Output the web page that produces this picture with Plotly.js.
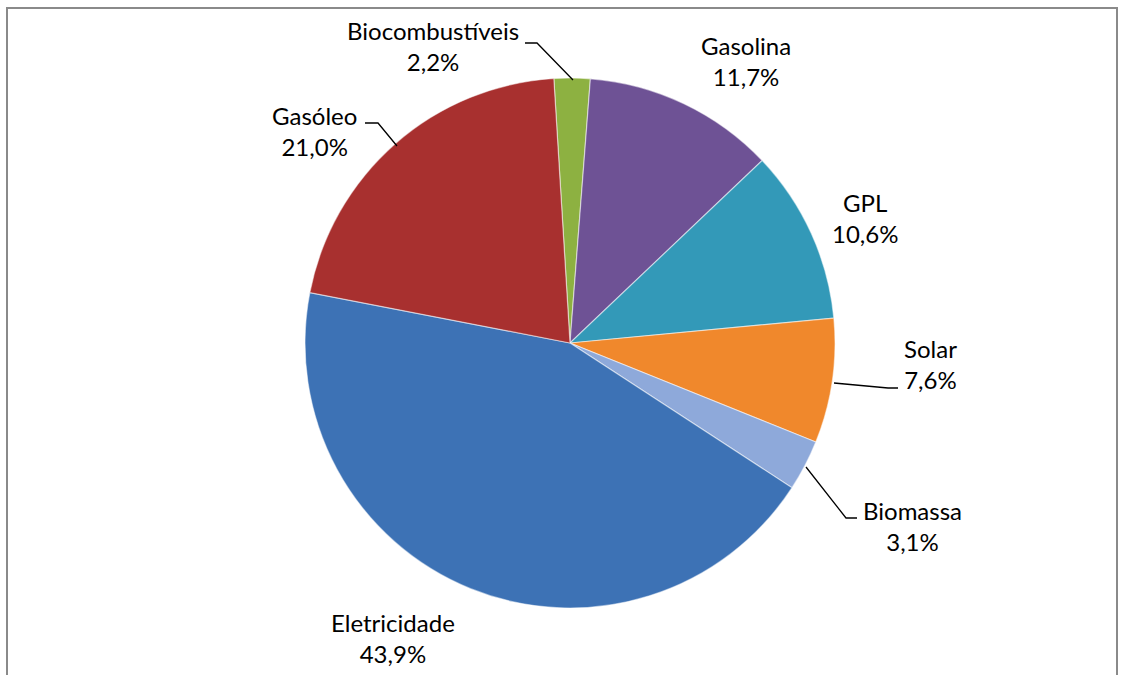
<!DOCTYPE html>
<html>
<head>
<meta charset="utf-8">
<script src="https://cdn.plot.ly/plotly-3.0.1.min.js"></script>
<style>
  html, body { margin: 0; padding: 0; background: #ffffff; }
  #chart { width: 1127px; height: 675px; }
</style>
</head>
<body>
<div id="chart"></div>
<script>
// ---- data ----
const categories = ["Biocombustíveis", "Gasolina", "GPL", "Solar", "Biomassa", "Eletricidade", "Gasóleo"];
const shares = [2.2, 11.7, 10.6, 7.6, 3.1, 43.9, 21.0];
const sliceColors = ["#8DB141", "#6E5295", "#3399B8", "#F0882C", "#8EA9DA", "#3D72B5", "#A8302F"];

// ---- layout helpers (pixel -> paper) ----
const W = 1127, H = 675;
const px = x => x / W;
const py = y => 1 - y / H;

// label centre positions (pixels) and leader line paths (pixels)
const labelPos = {
  "Biocombustíveis": [433, 46],
  "Gasolina": [746, 61],
  "GPL": [865, 218],
  "Solar": [930, 364],
  "Biomassa": [912, 526],
  "Eletricidade": [393, 638],
  "Gasóleo": [315, 131]
};
const leaders = [
  [[525, 43], [537, 43], [573, 80]],
  [[365, 123], [378, 123], [397, 146]],
  [[898, 388], [888, 388], [834, 383]],
  [[857, 518], [846, 518], [806, 467]]
];

const fmt = v => v.toFixed(1).replace('.', ',') + '%';

const annotations = categories.map((c, i) => ({
  xref: 'paper', yref: 'paper',
  x: px(labelPos[c][0]), y: py(labelPos[c][1]),
  xanchor: 'center', yanchor: 'middle',
  text: c + '<br>' + fmt(shares[i]),
  showarrow: false,
  font: { family: 'Lato, "Open Sans", sans-serif', size: 24, color: '#000000' }
}));

const shapes = leaders.map(pts => ({
  type: 'path', xref: 'paper', yref: 'paper',
  path: 'M ' + pts.map(p => px(p[0]) + ',' + py(p[1])).join(' L '),
  line: { color: '#000000', width: 1.3 }
}));
shapes.push({
  type: 'rect', xref: 'paper', yref: 'paper',
  x0: px(7), x1: px(1117), y0: -0.02, y1: py(8),
  line: { color: '#8a8a8a', width: 2 }
});

const trace = {
  type: 'pie',
  labels: categories,
  values: shares,
  sort: false,
  direction: 'clockwise',
  rotation: -3.5,
  textinfo: 'none',
  hoverinfo: 'label+percent',
  marker: { colors: sliceColors, line: { color: 'rgba(255,255,255,0.5)', width: 1.2 } },
  domain: { x: [px(305), px(835)], y: [py(608), py(78)] },
  showlegend: false
};

const layout = {
  width: W, height: H,
  margin: { l: 0, r: 0, t: 0, b: 0 },
  paper_bgcolor: '#ffffff',
  separators: ',.',
  showlegend: false,
  annotations: annotations,
  shapes: shapes
};

Plotly.newPlot('chart', [trace], layout, { displayModeBar: false, staticPlot: true });
</script>
</body>
</html>
